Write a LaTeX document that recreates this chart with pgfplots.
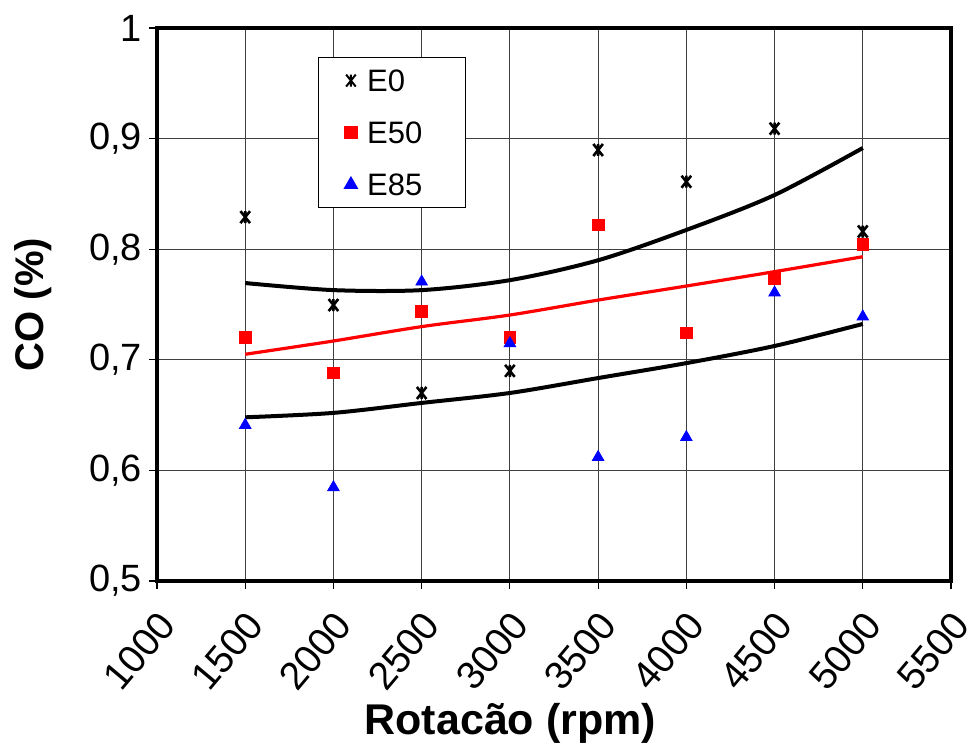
\documentclass[border=0pt]{standalone}
\usepackage{fontspec}
\setmainfont{Liberation Sans}
\usepackage{pgfplots}
\pgfplotsset{compat=1.18}
\pgfdeclareplotmark{exstar}{%
  \pgfpathmoveto{\pgfqpoint{-0.8\pgfplotmarksize}{-\pgfplotmarksize}}%
  \pgfpathlineto{\pgfqpoint{0.8\pgfplotmarksize}{\pgfplotmarksize}}%
  \pgfpathmoveto{\pgfqpoint{-0.8\pgfplotmarksize}{\pgfplotmarksize}}%
  \pgfpathlineto{\pgfqpoint{0.8\pgfplotmarksize}{-\pgfplotmarksize}}%
  \pgfpathmoveto{\pgfqpoint{0pt}{-\pgfplotmarksize}}%
  \pgfpathlineto{\pgfqpoint{0pt}{\pgfplotmarksize}}%
  \pgfusepathqstroke}
\begin{document}
\begin{tikzpicture}
\useasboundingbox (-78.5pt,-83.5pt) rectangle (407.5pt,290.5pt);
\begin{axis}[
  scale only axis,
  width=397pt, height=276.5pt,
  xmin=1000, xmax=5500, ymin=0.5, ymax=1,
  xtick={1000,1500,2000,2500,3000,3500,4000,4500,5000,5500},
  ytick={0.5,0.6,0.7,0.8,0.9,1},
  axis line style={line width=2pt},
  tick style={line width=0.6pt, black},
  tick align=outside,
  major tick length=4pt,
  xtick pos=bottom, ytick pos=left,
  grid=major,
  major grid style={line width=0.6pt, black!75},
  /pgf/number format/assume math mode=true,
  /pgf/number format/use comma,
  /pgf/number format/1000 sep={},
  yticklabel style={/pgf/number format/fixed, /pgf/number format/precision=1},
  ticklabel style={font=\fontsize{19}{22}\selectfont},
  xticklabel style={font=\fontsize{19.5}{22}\selectfont, xshift=-9pt, yshift=-31pt, rotate=50, anchor=center},
  xlabel={\bfseries Rotacão (rpm)},
  ylabel={\bfseries CO (\%)},
  label style={font=\fontsize{20}{24}\selectfont},
  xlabel style={font=\fontsize{21.5}{24}\selectfont, at={(axis description cs:0.445,-0.258)}, anchor=center},
  ylabel style={at={(axis description cs:-0.156,0.5)}, anchor=center},
  legend cell align=left,
  legend style={at={(0.2028,0.9476)}, anchor=north west, draw=black, line width=0.6pt,
    inner xsep=8pt, inner ysep=6pt, row sep=15pt,
    font=\fontsize{15.5}{16}\selectfont,
    nodes={inner sep=0pt, text height=11pt, text depth=0pt}},
  legend image code/.code={\path (-7.5pt,0pt) (7.5pt,0pt);\draw[#1,line width=1pt] plot coordinates {(0pt,0pt)};},
]
% E0
\addplot[only marks, mark=exstar, mark size=3pt, black, line width=1.3pt] coordinates {
(1500,0.829) (2000,0.7495) (2500,0.670) (3000,0.690) (3500,0.8897) (4000,0.861) (4500,0.909) (5000,0.816)};
\addlegendentry{\makebox[41pt][l]{E0}}
% E50
\addplot[only marks, mark=square*, mark size=2.9pt, red] coordinates {
(1500,0.720) (2000,0.688) (2500,0.7435) (3000,0.720) (3500,0.822) (4000,0.7245) (4500,0.7737) (5000,0.8044)};
\addlegendentry{\makebox[41pt][l]{E50}}
% E85
\addplot[only marks, mark=triangle*, mark size=3.3pt, blue] coordinates {
(1500,0.641) (2000,0.5847) (2500,0.7706) (3000,0.7149) (3500,0.612) (4000,0.630) (4500,0.7607) (5000,0.739)};
\addlegendentry{\makebox[41pt][l]{E85}}
% trend lines
\addplot[black, line width=2pt, smooth, forget plot] coordinates {
(1500,0.7694) (2000,0.763) (2500,0.763) (3000,0.772) (3500,0.790) (4000,0.8174) (4500,0.849) (5000,0.8915)};
\addplot[red, line width=1.6pt, smooth, forget plot] coordinates {
(1500,0.705) (2000,0.717) (2500,0.730) (3000,0.7405) (3500,0.754) (4000,0.7667) (4500,0.7797) (5000,0.7932)};
\addplot[black, line width=2pt, smooth, forget plot] coordinates {
(1500,0.648) (2000,0.652) (2500,0.661) (3000,0.670) (3500,0.6835) (4000,0.697) (4500,0.7125) (5000,0.7324)};
\end{axis}
\end{tikzpicture}
\end{document}
